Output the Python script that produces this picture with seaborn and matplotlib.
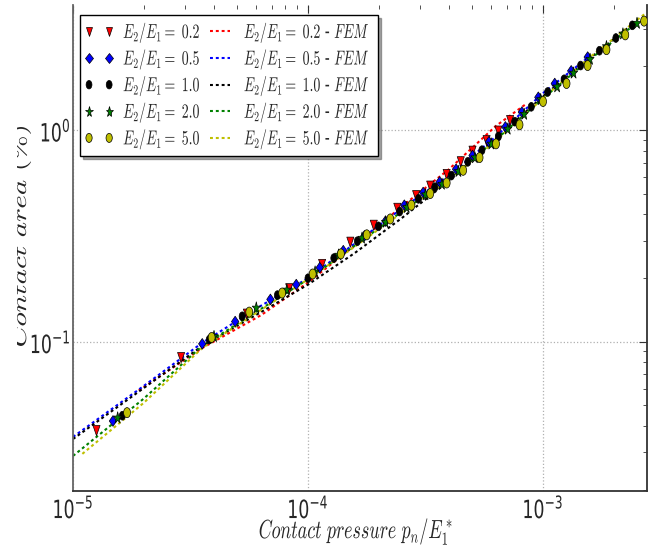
import matplotlib
matplotlib.use("Agg")
import matplotlib.pyplot as plt
import pandas as pd
import seaborn as sns
from matplotlib.lines import Line2D
from matplotlib.legend_handler import HandlerLine2D
from matplotlib.patheffects import AbstractPathEffect
from matplotlib.transforms import Affine2D, Bbox, TransformedBbox

# ---------------------------------------------------------------- data
ratios = ["0.2", "0.5", "1.0", "2.0", "5.0"]
colors = ["#ff0000", "#0000ff", "#000000", "#008000", "#bfbf00"]
markers = ["v", "D", "o", "*", "o"]
marker_sizes = [26, 14, 19, 38, 25]

# simulated contact area (%) against normalised pressure p_n / E_1^*
p_02 = [1.259e-5, 2.884e-5, 5.495e-5, 8.318e-5, 1.148e-4, 1.514e-4, 1.905e-4, 2.399e-4,
        2.884e-4, 3.311e-4, 3.890e-4, 4.467e-4, 5.012e-4, 5.754e-4, 6.457e-4, 7.244e-4]
a_02 = [0.0380, 0.0841, 0.1349, 0.1778, 0.2317, 0.2951, 0.3548, 0.4266,
        0.4898, 0.5433, 0.6166, 0.7079, 0.7943, 0.8913, 0.9886, 1.109]

p_05 = [1.479e-5, 3.548e-5, 4.898e-5, 6.918e-5, 8.913e-5, 1.122e-4, 1.413e-4, 1.738e-4,
        2.138e-4, 2.570e-4, 3.090e-4, 3.631e-4, 4.266e-4, 5.012e-4, 5.888e-4, 6.918e-4,
        8.128e-4, 9.550e-4, 1.122e-3, 1.318e-3, 1.549e-3]
a_05 = [0.0422, 0.0977, 0.1245, 0.1585, 0.1862, 0.2239, 0.2692, 0.3162,
        0.3715, 0.4416, 0.5070, 0.5689, 0.6531, 0.7586, 0.8810, 1.035,
        1.216, 1.429, 1.660, 1.905, 2.213]

p_10 = [1.622e-5, 3.802e-5, 5.248e-5, 7.413e-5, 1.000e-4, 1.288e-4, 1.622e-4, 1.995e-4,
        2.455e-4, 2.951e-4, 3.467e-4, 4.074e-4, 4.786e-4, 5.495e-4, 6.457e-4, 7.586e-4,
        8.913e-4, 1.047e-3, 1.230e-3, 1.445e-3, 1.738e-3, 2.042e-3, 2.399e-3]
a_10 = [0.0447, 0.1023, 0.1318, 0.1660, 0.1995, 0.2483, 0.2985, 0.3508,
        0.4121, 0.4732, 0.5370, 0.6095, 0.7079, 0.8035, 0.9333, 1.096,
        1.288, 1.514, 1.738, 2.018, 2.371, 2.723, 3.126]

p_20 = [1.549e-5, 3.981e-5, 6.026e-5, 8.128e-5, 1.072e-4, 1.349e-4, 1.698e-4, 2.138e-4,
        2.630e-4, 3.162e-4, 3.715e-4, 4.365e-4, 5.129e-4, 6.026e-4, 7.079e-4, 8.318e-4,
        9.772e-4, 1.148e-3, 1.349e-3, 1.585e-3, 1.862e-3, 2.188e-3, 2.512e-3]
a_20 = [0.0437, 0.1059, 0.1445, 0.1758, 0.2138, 0.2570, 0.3090, 0.3673,
        0.4315, 0.4955, 0.5559, 0.6383, 0.7413, 0.8610, 1.012, 1.189,
        1.396, 1.603, 1.862, 2.163, 2.483, 2.851, 3.199]

p_50 = [1.698e-5, 3.890e-5, 5.623e-5, 7.762e-5, 1.047e-4, 1.380e-4, 1.778e-4, 2.239e-4,
        2.754e-4, 3.311e-4, 3.890e-4, 4.571e-4, 5.370e-4, 6.310e-4, 7.943e-4, 1.000e-3,
        1.259e-3, 1.549e-3, 1.862e-3, 2.239e-3, 2.692e-3]
a_50 = [0.0462, 0.1047, 0.1380, 0.1698, 0.2089, 0.2600, 0.3199, 0.3802,
        0.4416, 0.5012, 0.5623, 0.6457, 0.7413, 0.8610, 1.059, 1.365,
        1.660, 2.018, 2.399, 2.818, 3.273]

# FEM reference curves
fem_p_02 = [1.905e-5, 3.548e-5, 6.310e-5, 1.000e-4, 1.585e-4, 2.512e-4, 3.981e-4, 6.310e-4, 8.511e-4]
fem_a_02 = [0.05888, 0.09333, 0.1334, 0.1905, 0.2851, 0.4365, 0.6531, 1.047, 1.334]

fem_p_05 = [1.000e-5, 1.995e-5, 3.548e-5, 6.310e-5, 1.000e-4, 1.585e-4, 2.512e-4, 3.981e-4,
            6.310e-4, 1.000e-3, 1.585e-3]
fem_a_05 = [0.03548, 0.06166, 0.09886, 0.1479, 0.1995, 0.2917, 0.4266, 0.6095,
            0.9333, 1.496, 2.239]

fem_p_10 = [1.000e-5, 1.995e-5, 3.548e-5, 6.310e-5, 1.000e-4, 1.585e-4, 2.512e-4, 3.981e-4,
            6.310e-4, 1.000e-3, 1.585e-3, 2.399e-3]
fem_a_10 = [0.03467, 0.06026, 0.09550, 0.1380, 0.1862, 0.2630, 0.3846, 0.5754,
            0.9120, 1.445, 2.188, 3.162]

fem_p_20 = [1.000e-5, 1.995e-5, 3.548e-5, 6.310e-5, 1.000e-4, 1.585e-4, 2.512e-4, 3.981e-4,
            6.310e-4, 1.000e-3, 1.585e-3, 2.399e-3]
fem_a_20 = [0.02884, 0.05370, 0.09550, 0.1429, 0.1972, 0.2851, 0.4121, 0.5888,
            0.9016, 1.413, 2.163, 3.090]

fem_p_50 = [1.096e-5, 1.995e-5, 3.548e-5, 6.310e-5, 1.000e-4, 1.585e-4, 2.512e-4, 3.981e-4,
            6.310e-4, 1.000e-3, 1.585e-3, 2.754e-3]
fem_a_50 = [0.02951, 0.05129, 0.09333, 0.1413, 0.1972, 0.2818, 0.4074, 0.5821,
            0.8913, 1.413, 2.213, 3.589]

sim_p = [p_02, p_05, p_10, p_20, p_50]
sim_a = [a_02, a_05, a_10, a_20, a_50]
fem_p = [fem_p_02, fem_p_05, fem_p_10, fem_p_20, fem_p_50]
fem_a = [fem_a_02, fem_a_05, fem_a_10, fem_a_20, fem_a_50]


# ------------------------------------------------------------- helpers
class VerticalStretch(AbstractPathEffect):
    """Draw a path stretched vertically about its own centre."""

    def __init__(self, factor):
        super().__init__()
        self._factor = factor

    def draw_path(self, renderer, gc, tpath, affine, rgbFace=None):
        ext = tpath.get_extents(affine)
        cy = 0.5 * (ext.y0 + ext.y1)
        stretch = Affine2D().translate(0, -cy).scale(1, self._factor).translate(0, cy)
        renderer.draw_path(gc, tpath, affine + stretch, rgbFace)


STRETCH = [VerticalStretch(1.45)]

# --------------------------------------------------------------- style
sns.set_style("white")
plt.rcParams["font.family"] = ["DejaVu Sans"]
plt.rcParams["mathtext.fontset"] = "dejavusans"

W, H = 649, 545
fig = plt.figure(figsize=(W / 100, H / 100), dpi=100)
ax = fig.add_axes([73 / W, (H - 491) / H, 574 / W, 486 / H])
ax.set_xscale("log")
ax.set_yscale("log")

# --------------------------------------------------------------- plots
for fp, fa, c in zip(fem_p, fem_a, colors):
    sns.lineplot(x=fp, y=fa, color=c, sort=False, estimator=None, ax=ax,
                 linewidth=1.5, linestyle=(0, (1.4, 1.4)), zorder=2)

for sp, sa, c, m, s in zip(sim_p, sim_a, colors, markers, marker_sizes):
    df = pd.DataFrame({"p": sp, "a": sa})
    sns.scatterplot(data=df, x="p", y="a", color=c, marker=m, s=s,
                    edgecolor="black", linewidth=0.5, ax=ax, zorder=3, legend=False)

for coll in ax.collections:
    coll.set_path_effects(STRETCH)

ax.set_xlim(1e-5, 2.77e-3)
ax.set_ylim(0.0197, 3.9)
ax.set_xlabel("")
ax.set_ylabel("")

ax.grid(True, which="major", linestyle=":", color="#b0b0b0", linewidth=0.9, zorder=0)
ax.tick_params(which="both", direction="in", top=True, right=True,
               color="#333333", labelsize=12.5)
ax.tick_params(which="major", length=6, width=0.8)
ax.tick_params(which="minor", length=3, width=0.6)
ax.tick_params(axis="x", which="major", pad=5.5)
ax.tick_params(axis="y", which="major", pad=1.5)

for side in ["left", "right", "bottom"]:
    ax.spines[side].set_color("#333333")
    ax.spines[side].set_linewidth(1.3)
ax.spines["left"].set_color("#666666")
ax.spines["top"].set_visible(False)

for lab in ax.get_xticklabels() + ax.get_yticklabels():
    lab.set_path_effects(STRETCH)

# -------------------------------------------------------------- labels
fig.text(356 / W, (H - 532) / H, r"$Contact\ pressure\ p_n/E_1^*$",
         ha="center", va="center", fontsize=13, math_fontfamily="cm",
         path_effects=STRETCH)
ylab = fig.text(33 / W, (H - 236) / H, r"$Contact\ area\ (\%)$", rotation=90,
                ha="right", va="center", fontsize=14.5, math_fontfamily="cm",
                path_effects=STRETCH)
ylab.set_clip_box(TransformedBbox(Bbox([[17 / W, 0], [1, 1]]), fig.transFigure))
ylab.set_clip_on(True)

# -------------------------------------------------------------- legend
marker_handles = [
    Line2D([], [], linestyle="none", marker=m, color=c, markeredgecolor="black",
           markeredgewidth=0.5, markersize=ms, path_effects=STRETCH)
    for c, m, ms in zip(colors, markers, [4.5, 3.8, 4.2, 5.5, 4.5])
]
line_handles = [
    Line2D([], [], color=c, linewidth=1.5, linestyle=(0, (1.4, 1.4)))
    for c in colors
]
labels = [rf"$E_2/E_1 =\ {r}$" for r in ratios] + \
         [rf"$E_2/E_1 =\ {r}$ - $FEM$" for r in ratios]

leg = ax.legend(marker_handles + line_handles, labels, ncol=2, numpoints=2,
                handler_map={Line2D: HandlerLine2D(marker_pad=0.05, numpoints=2)},
                loc="upper left", bbox_to_anchor=(7 / 574, 1 - 10 / 486),
                borderaxespad=0, fontsize=10, frameon=True, fancybox=False,
                shadow=True, framealpha=1, edgecolor="black",
                handlelength=1.55, handletextpad=0.95, columnspacing=0.6,
                labelspacing=0.62, borderpad=0.6)
leg.get_frame().set_linewidth(1.0)
for t in leg.get_texts():
    t.set_math_fontfamily("cm")
    t.set_path_effects(STRETCH)

fig.savefig("out.png", dpi=100)
